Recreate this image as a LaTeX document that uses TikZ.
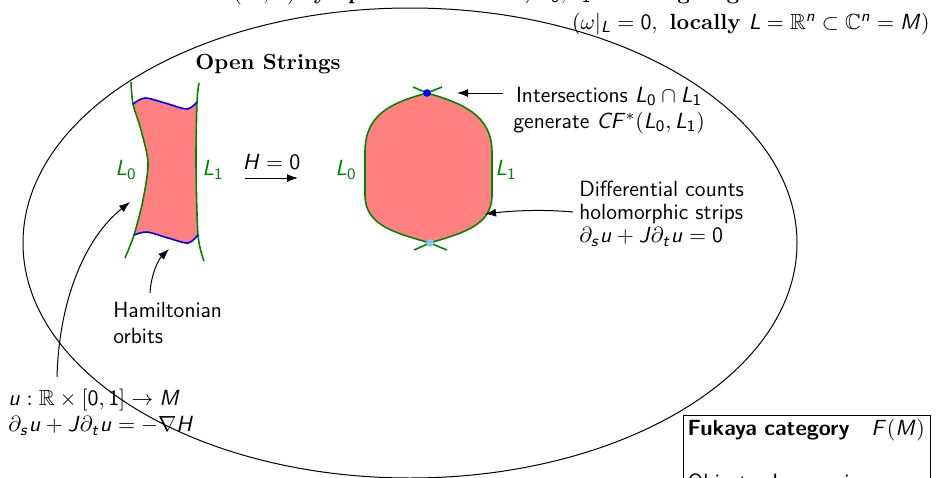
\documentclass[tikz,border=0pt,11pt]{standalone}
\usepackage{amsmath,amssymb}
\usetikzlibrary{arrows.meta}
\DeclareSymbolFont{sfit}{OT1}{cmss}{m}{sl}
\DeclareSymbolFont{sfup}{OT1}{cmss}{m}{n}
\DeclareMathSymbol{L}{\mathalpha}{sfit}{"4C}
\DeclareMathSymbol{M}{\mathalpha}{sfit}{"4D}
\DeclareMathSymbol{H}{\mathalpha}{sfit}{"48}
\DeclareMathSymbol{J}{\mathalpha}{sfit}{"4A}
\DeclareMathSymbol{F}{\mathalpha}{sfit}{"46}
\DeclareMathSymbol{C}{\mathalpha}{sfit}{"43}
\DeclareMathSymbol{u}{\mathalpha}{sfit}{"75}
\DeclareMathSymbol{s}{\mathalpha}{sfit}{"73}
\DeclareMathSymbol{t}{\mathalpha}{sfit}{"74}
\DeclareMathSymbol{n}{\mathalpha}{sfit}{"6E}
\DeclareMathSymbol{0}{\mathalpha}{sfup}{"30}
\DeclareMathSymbol{1}{\mathalpha}{sfup}{"31}
\definecolor{stripfill}{RGB}{255,128,128}
\definecolor{lagr}{RGB}{0,135,0}
\definecolor{ltblue}{RGB}{130,200,255}
\tikzset{
  arr/.style={-{Latex[length=5.5pt,width=4pt]}, line width=0.5pt},
  lag/.style={draw=lagr, line width=0.8pt},
  orb/.style={draw=blue, line width=0.8pt},
  lablag/.style={text=lagr, font=\sffamily, inner sep=0pt},
  txt/.style={font=\fontsize{11}{13}\selectfont\sffamily, inner sep=0pt, align=left},
  hdr/.style={font=\rmfamily\bfseries, inner sep=0pt},
  dot/.style={circle, inner sep=0pt, minimum size=3.8pt}
}
\begin{document}
\begin{tikzpicture}[x=0.5pt, y=-0.5pt]
\useasboundingbox (0,0) rectangle (943,477);
\clip (0,0) rectangle (943,477);

% ambient manifold
\draw[line width=0.5pt] (410,243) ellipse [x radius=193.5pt, y radius=117.5pt];

% top text (cut off at the top edge)
\node[hdr, anchor=base west] (hdr1) at (233,-1)
  {$(M,\omega)$ symplectic manifold, $L_0, L_1 \subset M$ Lagrangian submanifolds};
\node[hdr, anchor=base east] (hdr2) at (930,29)
  {$(\omega|_L = 0,\ \text{locally}\ L = \mathbb{R}^n \subset \mathbb{C}^n = M)$};

\node[hdr] (open) at (268,64) {Open Strings};

% strip with Hamiltonian perturbation
\fill[stripfill] plot[smooth] coordinates {(133,104) (145,98) (165,103) (187,109) (197,102)}
  -- plot[smooth] coordinates {(197,102) (196,163) (198,235)}
  -- plot[smooth] coordinates {(198,235) (188,243) (168,238) (147,232) (134,235)}
  -- plot[smooth] coordinates {(134,235) (143,200) (148,163) (141,130) (133,104)} -- cycle;
\draw[lag] plot[smooth] coordinates {(131,82) (133,104) (141,130) (148,163) (143,200) (134,235) (125,258)};
\draw[lag] plot[smooth] coordinates {(199,83) (197,102) (196,163) (198,235) (204,261)};
\draw[orb] plot[smooth] coordinates {(133,104) (145,98) (165,103) (187,109) (197,102)};
\draw[orb] plot[smooth] coordinates {(134,235) (147,232) (168,238) (188,243) (198,235)};

\node[lablag] (sL0) at (126,170) {$L_0$};
\node[lablag] (sL1) at (213,170) {$L_1$};

% H = 0 arrow
\coordinate (hL) at (245,178);
\coordinate (hR) at (298,178);
\draw[arr] (hL) -- (hR) node[midway, above=4pt, inner sep=0pt] (hlab) {$H = 0$};

% lens between two Lagrangians
\coordinate (T) at (427,93);
\coordinate (B) at (430,243);
\fill[stripfill] (T) .. controls (390,103) and (365,115) .. (365,152) -- (365,195)
  .. controls (365,226) and (396,233) .. (B)
  .. controls (462,233) and (492,226) .. (492,195) -- (492,152)
  .. controls (492,115) and (462,103) .. (T) -- cycle;
\draw[lag] (T) .. controls (390,103) and (365,115) .. (365,152) -- (365,195)
  .. controls (365,226) and (396,233) .. (B);
\draw[lag] (T) .. controls (462,103) and (492,115) .. (492,152) -- (492,195)
  .. controls (492,226) and (462,233) .. (B);
\coordinate (tA) at (413,87);
\coordinate (tB) at (442,87);
\coordinate (bA) at (414,250);
\coordinate (bB) at (447,250);
\draw[lag] (tA) -- (T) -- (tB);
\draw[lag] (bA) -- (B) -- (bB);
\node[dot, fill=blue] (xtop) at (T) {};
\node[dot, fill=ltblue] (xbot) at (B) {};

\node[lablag] (lL0) at (346,170) {$L_0$};
\node[lablag] (lL1) at (506,170) {$L_1$};

% annotations
\node[txt, anchor=north west, align=center] (inter) at (513,87)
  {Intersections $L_0 \cap L_1$\\ generate $CF^*(L_0, L_1)$};
\coordinate (itip) at (457,93);
\draw[arr, shorten <=5pt] (inter.west |- xtop) -- (itip);

\node[txt, anchor=north west] (diff) at (579,181)
  {Differential counts\\[-1.5pt] holomorphic strips\\[-1.5pt] $\partial_s u + J\partial_t u = 0$};
\coordinate (dstart) at (573,212);
\coordinate (dtip) at (485,214);
\draw[arr] (dstart) .. controls (540,209) and (510,211) .. (dtip);

\node[txt, anchor=north west] (ham) at (113,302) {Hamiltonian\\ orbits};
\coordinate (hstart) at (150,293);
\coordinate (htip) at (169,249);
\draw[arr] (hstart) .. controls (151,275) and (158,260) .. (htip);

\node[txt, anchor=north west] (ueq) at (8,389)
  {$u : \mathbb{R}\times[0,1] \to M$\\ $\partial_s u + J\partial_t u = -\nabla H$};
\coordinate (ustart) at (57,377);
\coordinate (utip) at (130,202);
\draw[arr] (ustart) .. controls (59,300) and (85,238) .. (utip);

% Fukaya category box
\node[draw, line width=0.5pt, anchor=north west, font=\fontsize{11}{13}\selectfont\sffamily, align=left,
      inner xsep=2pt, inner ysep=2pt, text width=119.5pt] (fuk) at (683,415)
  {\textbf{Fukaya category}\quad$F(M)$\\[14pt] Objects: Lagrangians};
\end{tikzpicture}
\end{document}
